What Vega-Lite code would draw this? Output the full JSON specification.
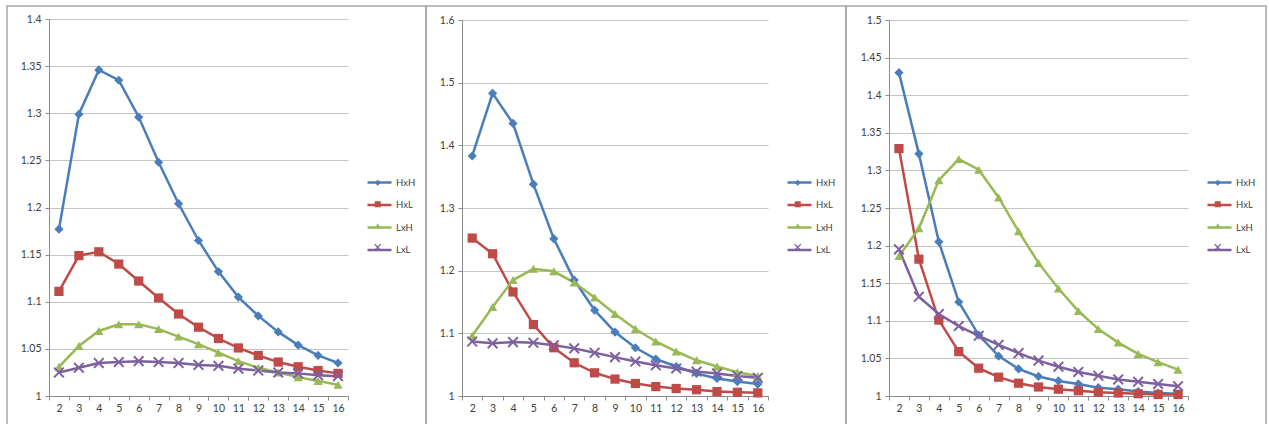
{
  "$schema": "https://vega.github.io/schema/vega-lite/v6.json",
  "padding": {"left": 6, "top": 5, "right": 0, "bottom": 0},
  "bounds": "flush",
  "spacing": 0,
  "resolve": {"scale": {"color": "independent", "shape": "independent", "stroke": "independent"}, "legend": {"color": "independent", "shape": "independent", "stroke": "independent"}},
  "config": {
    "view": {"stroke": "#a6a6a6", "strokeWidth": 1.5},
    "font": "Lato",
    "axis": {"labelFont": "Lato", "labelFontSize": 10.5, "labelColor": "#404040", "domainColor": "#8c8c8c", "tickColor": "#8c8c8c", "tickSize": 4, "gridColor": "#c4c4c4", "gridWidth": 1, "title": null},
    "legend": {"orient": "none", "legendY": 172, "title": null, "padding": 0, "rowPadding": 10.5, "labelFont": "Lato", "labelFontSize": 9.5, "labelColor": "#404040", "labelOffset": 3}
  },
  "data": {"values": [
    {"p":1,"n":2,"s":"HxH","v":1.177},{"p":1,"n":3,"s":"HxH","v":1.299},{"p":1,"n":4,"s":"HxH","v":1.346},{"p":1,"n":5,"s":"HxH","v":1.335},{"p":1,"n":6,"s":"HxH","v":1.296},{"p":1,"n":7,"s":"HxH","v":1.248},{"p":1,"n":8,"s":"HxH","v":1.204},{"p":1,"n":9,"s":"HxH","v":1.165},{"p":1,"n":10,"s":"HxH","v":1.132},{"p":1,"n":11,"s":"HxH","v":1.105},{"p":1,"n":12,"s":"HxH","v":1.085},{"p":1,"n":13,"s":"HxH","v":1.068},{"p":1,"n":14,"s":"HxH","v":1.054},{"p":1,"n":15,"s":"HxH","v":1.043},{"p":1,"n":16,"s":"HxH","v":1.035},
    {"p":1,"n":2,"s":"HxL","v":1.111},{"p":1,"n":3,"s":"HxL","v":1.149},{"p":1,"n":4,"s":"HxL","v":1.153},{"p":1,"n":5,"s":"HxL","v":1.140},{"p":1,"n":6,"s":"HxL","v":1.122},{"p":1,"n":7,"s":"HxL","v":1.104},{"p":1,"n":8,"s":"HxL","v":1.087},{"p":1,"n":9,"s":"HxL","v":1.073},{"p":1,"n":10,"s":"HxL","v":1.061},{"p":1,"n":11,"s":"HxL","v":1.051},{"p":1,"n":12,"s":"HxL","v":1.043},{"p":1,"n":13,"s":"HxL","v":1.036},{"p":1,"n":14,"s":"HxL","v":1.031},{"p":1,"n":15,"s":"HxL","v":1.027},{"p":1,"n":16,"s":"HxL","v":1.024},
    {"p":1,"n":2,"s":"LxH","v":1.031},{"p":1,"n":3,"s":"LxH","v":1.053},{"p":1,"n":4,"s":"LxH","v":1.069},{"p":1,"n":5,"s":"LxH","v":1.076},{"p":1,"n":6,"s":"LxH","v":1.076},{"p":1,"n":7,"s":"LxH","v":1.071},{"p":1,"n":8,"s":"LxH","v":1.063},{"p":1,"n":9,"s":"LxH","v":1.055},{"p":1,"n":10,"s":"LxH","v":1.046},{"p":1,"n":11,"s":"LxH","v":1.037},{"p":1,"n":12,"s":"LxH","v":1.030},{"p":1,"n":13,"s":"LxH","v":1.025},{"p":1,"n":14,"s":"LxH","v":1.020},{"p":1,"n":15,"s":"LxH","v":1.016},{"p":1,"n":16,"s":"LxH","v":1.012},
    {"p":1,"n":2,"s":"LxL","v":1.025},{"p":1,"n":3,"s":"LxL","v":1.030},{"p":1,"n":4,"s":"LxL","v":1.035},{"p":1,"n":5,"s":"LxL","v":1.036},{"p":1,"n":6,"s":"LxL","v":1.037},{"p":1,"n":7,"s":"LxL","v":1.036},{"p":1,"n":8,"s":"LxL","v":1.035},{"p":1,"n":9,"s":"LxL","v":1.033},{"p":1,"n":10,"s":"LxL","v":1.032},{"p":1,"n":11,"s":"LxL","v":1.029},{"p":1,"n":12,"s":"LxL","v":1.027},{"p":1,"n":13,"s":"LxL","v":1.025},{"p":1,"n":14,"s":"LxL","v":1.024},{"p":1,"n":15,"s":"LxL","v":1.022},{"p":1,"n":16,"s":"LxL","v":1.021},
    {"p":2,"n":2,"s":"HxH","v":1.383},{"p":2,"n":3,"s":"HxH","v":1.483},{"p":2,"n":4,"s":"HxH","v":1.435},{"p":2,"n":5,"s":"HxH","v":1.338},{"p":2,"n":6,"s":"HxH","v":1.251},{"p":2,"n":7,"s":"HxH","v":1.185},{"p":2,"n":8,"s":"HxH","v":1.137},{"p":2,"n":9,"s":"HxH","v":1.102},{"p":2,"n":10,"s":"HxH","v":1.077},{"p":2,"n":11,"s":"HxH","v":1.059},{"p":2,"n":12,"s":"HxH","v":1.047},{"p":2,"n":13,"s":"HxH","v":1.036},{"p":2,"n":14,"s":"HxH","v":1.028},{"p":2,"n":15,"s":"HxH","v":1.023},{"p":2,"n":16,"s":"HxH","v":1.019},
    {"p":2,"n":2,"s":"HxL","v":1.252},{"p":2,"n":3,"s":"HxL","v":1.227},{"p":2,"n":4,"s":"HxL","v":1.166},{"p":2,"n":5,"s":"HxL","v":1.114},{"p":2,"n":6,"s":"HxL","v":1.077},{"p":2,"n":7,"s":"HxL","v":1.053},{"p":2,"n":8,"s":"HxL","v":1.037},{"p":2,"n":9,"s":"HxL","v":1.027},{"p":2,"n":10,"s":"HxL","v":1.020},{"p":2,"n":11,"s":"HxL","v":1.015},{"p":2,"n":12,"s":"HxL","v":1.012},{"p":2,"n":13,"s":"HxL","v":1.010},{"p":2,"n":14,"s":"HxL","v":1.007},{"p":2,"n":15,"s":"HxL","v":1.006},{"p":2,"n":16,"s":"HxL","v":1.005},
    {"p":2,"n":2,"s":"LxH","v":1.096},{"p":2,"n":3,"s":"LxH","v":1.142},{"p":2,"n":4,"s":"LxH","v":1.185},{"p":2,"n":5,"s":"LxH","v":1.203},{"p":2,"n":6,"s":"LxH","v":1.199},{"p":2,"n":7,"s":"LxH","v":1.181},{"p":2,"n":8,"s":"LxH","v":1.157},{"p":2,"n":9,"s":"LxH","v":1.131},{"p":2,"n":10,"s":"LxH","v":1.107},{"p":2,"n":11,"s":"LxH","v":1.087},{"p":2,"n":12,"s":"LxH","v":1.071},{"p":2,"n":13,"s":"LxH","v":1.057},{"p":2,"n":14,"s":"LxH","v":1.047},{"p":2,"n":15,"s":"LxH","v":1.038},{"p":2,"n":16,"s":"LxH","v":1.032},
    {"p":2,"n":2,"s":"LxL","v":1.087},{"p":2,"n":3,"s":"LxL","v":1.084},{"p":2,"n":4,"s":"LxL","v":1.086},{"p":2,"n":5,"s":"LxL","v":1.085},{"p":2,"n":6,"s":"LxL","v":1.081},{"p":2,"n":7,"s":"LxL","v":1.076},{"p":2,"n":8,"s":"LxL","v":1.069},{"p":2,"n":9,"s":"LxL","v":1.062},{"p":2,"n":10,"s":"LxL","v":1.055},{"p":2,"n":11,"s":"LxL","v":1.049},{"p":2,"n":12,"s":"LxL","v":1.044},{"p":2,"n":13,"s":"LxL","v":1.039},{"p":2,"n":14,"s":"LxL","v":1.036},{"p":2,"n":15,"s":"LxL","v":1.032},{"p":2,"n":16,"s":"LxL","v":1.029},
    {"p":3,"n":2,"s":"HxH","v":1.430},{"p":3,"n":3,"s":"HxH","v":1.322},{"p":3,"n":4,"s":"HxH","v":1.205},{"p":3,"n":5,"s":"HxH","v":1.125},{"p":3,"n":6,"s":"HxH","v":1.081},{"p":3,"n":7,"s":"HxH","v":1.053},{"p":3,"n":8,"s":"HxH","v":1.036},{"p":3,"n":9,"s":"HxH","v":1.026},{"p":3,"n":10,"s":"HxH","v":1.020},{"p":3,"n":11,"s":"HxH","v":1.016},{"p":3,"n":12,"s":"HxH","v":1.011},{"p":3,"n":13,"s":"HxH","v":1.009},{"p":3,"n":14,"s":"HxH","v":1.006},{"p":3,"n":15,"s":"HxH","v":1.004},{"p":3,"n":16,"s":"HxH","v":1.003},
    {"p":3,"n":2,"s":"HxL","v":1.329},{"p":3,"n":3,"s":"HxL","v":1.182},{"p":3,"n":4,"s":"HxL","v":1.101},{"p":3,"n":5,"s":"HxL","v":1.059},{"p":3,"n":6,"s":"HxL","v":1.037},{"p":3,"n":7,"s":"HxL","v":1.025},{"p":3,"n":8,"s":"HxL","v":1.017},{"p":3,"n":9,"s":"HxL","v":1.012},{"p":3,"n":10,"s":"HxL","v":1.009},{"p":3,"n":11,"s":"HxL","v":1.007},{"p":3,"n":12,"s":"HxL","v":1.005},{"p":3,"n":13,"s":"HxL","v":1.004},{"p":3,"n":14,"s":"HxL","v":1.003},{"p":3,"n":15,"s":"HxL","v":1.002},{"p":3,"n":16,"s":"HxL","v":1.002},
    {"p":3,"n":2,"s":"LxH","v":1.186},{"p":3,"n":3,"s":"LxH","v":1.223},{"p":3,"n":4,"s":"LxH","v":1.287},{"p":3,"n":5,"s":"LxH","v":1.315},{"p":3,"n":6,"s":"LxH","v":1.301},{"p":3,"n":7,"s":"LxH","v":1.264},{"p":3,"n":8,"s":"LxH","v":1.219},{"p":3,"n":9,"s":"LxH","v":1.177},{"p":3,"n":10,"s":"LxH","v":1.143},{"p":3,"n":11,"s":"LxH","v":1.113},{"p":3,"n":12,"s":"LxH","v":1.089},{"p":3,"n":13,"s":"LxH","v":1.071},{"p":3,"n":14,"s":"LxH","v":1.056},{"p":3,"n":15,"s":"LxH","v":1.045},{"p":3,"n":16,"s":"LxH","v":1.035},
    {"p":3,"n":2,"s":"LxL","v":1.195},{"p":3,"n":3,"s":"LxL","v":1.132},{"p":3,"n":4,"s":"LxL","v":1.109},{"p":3,"n":5,"s":"LxL","v":1.093},{"p":3,"n":6,"s":"LxL","v":1.080},{"p":3,"n":7,"s":"LxL","v":1.068},{"p":3,"n":8,"s":"LxL","v":1.057},{"p":3,"n":9,"s":"LxL","v":1.047},{"p":3,"n":10,"s":"LxL","v":1.039},{"p":3,"n":11,"s":"LxL","v":1.032},{"p":3,"n":12,"s":"LxL","v":1.027},{"p":3,"n":13,"s":"LxL","v":1.022},{"p":3,"n":14,"s":"LxL","v":1.019},{"p":3,"n":15,"s":"LxL","v":1.016},{"p":3,"n":16,"s":"LxL","v":1.013}
  ]},
  "hconcat": [
    {
      "width": 419, "height": 425,
      "transform": [{"filter": "datum.p == 1"}],
      "encoding": {
        "x": {"field": "n", "type": "ordinal", "bandPosition": 0.5,
          "scale": {"type": "band", "range": [42, 341], "paddingInner": 0, "paddingOuter": 0},
          "axis": {"offset": -35, "tickBand": "extent", "labelAngle": 0, "grid": false, "labelPadding": 3}},
        "y": {"field": "v", "type": "quantitative",
          "scale": {"domain": [1, 1.4], "range": [390, 13], "zero": false, "nice": false},
          "axis": {"offset": -42, "values": [1, 1.05, 1.1, 1.15, 1.2, 1.25, 1.3, 1.35, 1.4], "format": "~g", "grid": true, "labelPadding": 4}}
      },
      "layer": [
        {"mark": {"type": "line", "strokeWidth": 2.5},
          "encoding": {"stroke": {"field": "s", "type": "nominal", "scale": {"domain": ["HxH", "HxL", "LxH", "LxL"], "range": ["#4A7EBB", "#BE4B48", "#98B954", "#7D60A0"]},
            "legend": {"legendX": 359, "legendY": 163, "rowPadding": 3.5, "symbolType": "stroke", "symbolSize": 576, "symbolStrokeWidth": 2.5}}}},
        {"mark": {"type": "point", "filled": true, "size": 85, "opacity": 1},
          "encoding": {
            "color": {"field": "s", "type": "nominal", "scale": {"range": ["#4A7EBB", "#BE4B48", "#98B954", "#7D60A0"]},
              "legend": {"legendX": 366, "symbolSize": 36, "symbolStrokeWidth": 0, "labelExpr": "''"}},
            "shape": {"field": "s", "type": "nominal", "scale": {"range": ["diamond", "square", "triangle-up", "M-1.2,-0.9L-0.9,-1.2L0,-0.3L0.9,-1.2L1.2,-0.9L0.3,0L1.2,0.9L0.9,1.2L0,0.3L-0.9,1.2L-1.2,0.9L-0.3,0Z"]},
              "legend": {"legendX": 366, "symbolSize": 36, "symbolStrokeWidth": 0, "labelExpr": "''"}}
          }}
      ]
    },
    {
      "width": 420, "height": 425,
      "transform": [{"filter": "datum.p == 2"}],
      "encoding": {
        "x": {"field": "n", "type": "ordinal", "bandPosition": 0.5,
          "scale": {"type": "band", "range": [36, 342], "paddingInner": 0, "paddingOuter": 0},
          "axis": {"offset": -35, "tickBand": "extent", "labelAngle": 0, "grid": false, "labelPadding": 3}},
        "y": {"field": "v", "type": "quantitative",
          "scale": {"domain": [1, 1.6], "range": [390, 14], "zero": false, "nice": false},
          "axis": {"offset": -36, "values": [1, 1.1, 1.2, 1.3, 1.4, 1.5, 1.6], "format": "~g", "grid": true, "labelPadding": 4}}
      },
      "layer": [
        {"mark": {"type": "line", "strokeWidth": 2.5},
          "encoding": {"stroke": {"field": "s", "type": "nominal", "scale": {"domain": ["HxH", "HxL", "LxH", "LxL"], "range": ["#4A7EBB", "#BE4B48", "#98B954", "#7D60A0"]},
            "legend": {"legendX": 360, "legendY": 163, "rowPadding": 3.5, "symbolType": "stroke", "symbolSize": 576, "symbolStrokeWidth": 2.5}}}},
        {"mark": {"type": "point", "filled": true, "size": 85, "opacity": 1},
          "encoding": {
            "color": {"field": "s", "type": "nominal", "scale": {"range": ["#4A7EBB", "#BE4B48", "#98B954", "#7D60A0"]},
              "legend": {"legendX": 367, "symbolSize": 36, "symbolStrokeWidth": 0, "labelExpr": "''"}},
            "shape": {"field": "s", "type": "nominal", "scale": {"range": ["diamond", "square", "triangle-up", "M-1.2,-0.9L-0.9,-1.2L0,-0.3L0.9,-1.2L1.2,-0.9L0.3,0L1.2,0.9L0.9,1.2L0,0.3L-0.9,1.2L-1.2,0.9L-0.3,0Z"]},
              "legend": {"legendX": 367, "symbolSize": 36, "symbolStrokeWidth": 0, "labelExpr": "''"}}
          }}
      ]
    },
    {
      "width": 420, "height": 425,
      "transform": [{"filter": "datum.p == 3"}],
      "encoding": {
        "x": {"field": "n", "type": "ordinal", "bandPosition": 0.5,
          "scale": {"type": "band", "range": [43, 342], "paddingInner": 0, "paddingOuter": 0},
          "axis": {"offset": -35, "tickBand": "extent", "labelAngle": 0, "grid": false, "labelPadding": 3}},
        "y": {"field": "v", "type": "quantitative",
          "scale": {"domain": [1, 1.5], "range": [390, 14], "zero": false, "nice": false},
          "axis": {"offset": -43, "values": [1, 1.05, 1.1, 1.15, 1.2, 1.25, 1.3, 1.35, 1.4, 1.45, 1.5], "format": "~g", "grid": true, "labelPadding": 4}}
      },
      "layer": [
        {"mark": {"type": "line", "strokeWidth": 2.5},
          "encoding": {"stroke": {"field": "s", "type": "nominal", "scale": {"domain": ["HxH", "HxL", "LxH", "LxL"], "range": ["#4A7EBB", "#BE4B48", "#98B954", "#7D60A0"]},
            "legend": {"legendX": 360, "legendY": 163, "rowPadding": 3.5, "symbolType": "stroke", "symbolSize": 576, "symbolStrokeWidth": 2.5}}}},
        {"mark": {"type": "point", "filled": true, "size": 85, "opacity": 1},
          "encoding": {
            "color": {"field": "s", "type": "nominal", "scale": {"range": ["#4A7EBB", "#BE4B48", "#98B954", "#7D60A0"]},
              "legend": {"legendX": 367, "symbolSize": 36, "symbolStrokeWidth": 0, "labelExpr": "''"}},
            "shape": {"field": "s", "type": "nominal", "scale": {"range": ["diamond", "square", "triangle-up", "M-1.2,-0.9L-0.9,-1.2L0,-0.3L0.9,-1.2L1.2,-0.9L0.3,0L1.2,0.9L0.9,1.2L0,0.3L-0.9,1.2L-1.2,0.9L-0.3,0Z"]},
              "legend": {"legendX": 367, "symbolSize": 36, "symbolStrokeWidth": 0, "labelExpr": "''"}}
          }}
      ]
    }
  ]
}
